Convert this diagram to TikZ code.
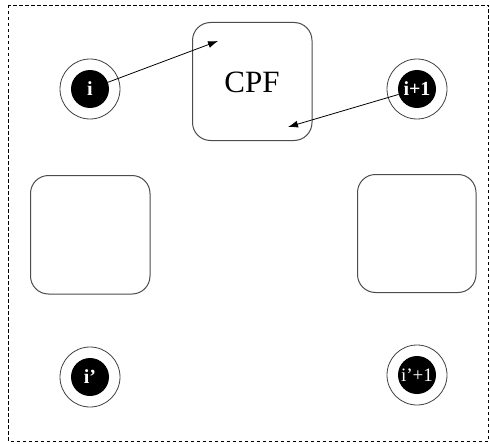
\documentclass[tikz,border=0pt]{standalone}
\usepackage{fontspec}
\setmainfont{Liberation Serif}
\usetikzlibrary{arrows.meta}
\begin{document}
\begin{tikzpicture}[x=1pt,y=-1pt,
  frame/.style={draw=black,line width=0.8pt,dash pattern=on 3.5pt off 2.5pt},
  roundbox/.style={draw=black!70,line width=1pt,rounded corners=18pt,fill=white},
  ring/.style={circle,draw=black!75,line width=0.8pt,minimum size=60pt,inner sep=0pt},
  core/.style={circle,fill=black,minimum size=38pt,inner sep=0pt,text=white,font=\fontsize{20}{20}\selectfont\bfseries},
  corethin/.style={core,font=\fontsize{19}{19}\selectfont},
  link/.style={line width=0.8pt,-{Latex[length=10pt,width=7pt]}}
]
\useasboundingbox (0,0) rectangle (490,444);
% outer dashed frame
\draw[frame] (8.5,5) rectangle (488.5,441);

% processing boxes
\draw[roundbox] (192.5,22.5) rectangle (312,140.5);
\node[font=\fontsize{31}{31}\selectfont] (cpf) at (252,82) {CPF};
\draw[roundbox] (30.5,175.5) rectangle (150,294);
\draw[roundbox] (357.5,174.5) rectangle (476,292.5);

% nodes i, i+1, i', i'+1
\node[ring] (ri) at (90,89) {};
\node[core] (i) at (90,89) {i};
\node[ring] (ri1) at (417,89) {};
\node[core] (i1) at (417,89) {i+1};
\node[ring] (rip) at (90,377) {};
\node[core] (ip) at (90,377) {i’};
\node[ring] (rip1) at (417,375) {};
\node[corethin] (ip1) at (417,375) {i’+1};

% arrow targets inside the CPF box
\coordinate (tin) at (218,41);
\coordinate (tout) at (288,127);
\draw[link] (i) -- (tin);
\draw[link] (i1) -- (tout);
\end{tikzpicture}
\end{document}
